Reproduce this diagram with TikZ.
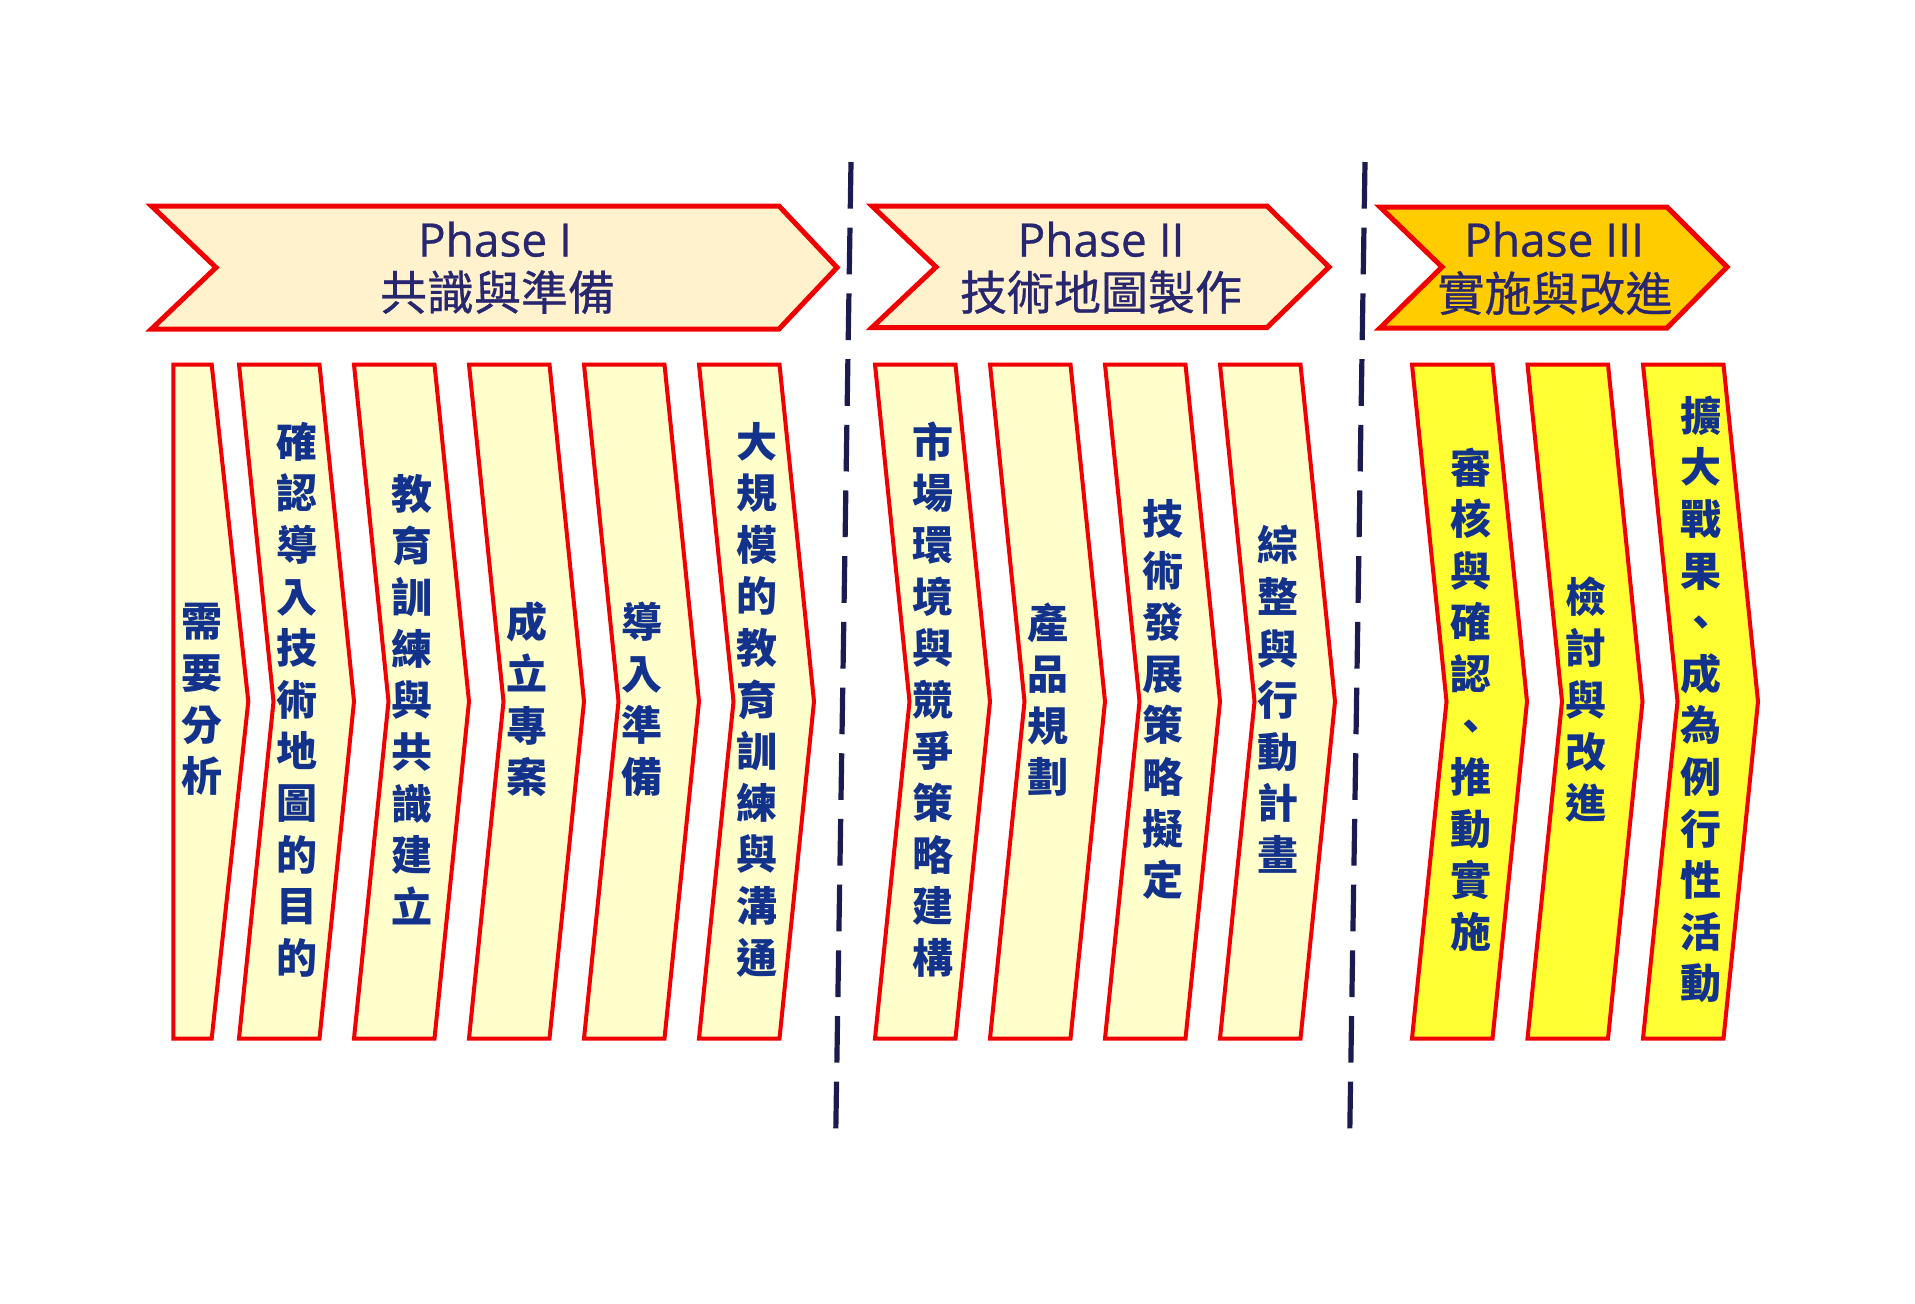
\documentclass[tikz,border=0pt]{standalone}
\usepackage{fontspec}
\setmainfont{Open Sans}
\newfontfamily\latinfont[FakeBold=0.7]{Open Sans}
\newfontfamily\cjk{Noto Sans CJK TC}
\newfontfamily\cjkmed[FakeBold=0.6]{Noto Sans CJK TC}
\definecolor{hdrtext}{RGB}{40,38,110}
\definecolor{boxtext}{RGB}{18,50,140}
\definecolor{hdrfill}{RGB}{255,242,204}
\definecolor{goldfill}{RGB}{255,204,0}
\definecolor{boxfill}{RGB}{255,255,204}
\definecolor{boxfillB}{RGB}{255,255,51}
\definecolor{edgered}{RGB}{240,0,0}
\definecolor{dashcol}{RGB}{27,27,80}
\begin{document}
\begin{tikzpicture}[x=0.5pt,y=-0.5pt,
  hdr/.style={draw=edgered, line width=2.5pt, fill=hdrfill, line join=miter},
  hdrB/.style={hdr, fill=goldfill},
  bx/.style={draw=edgered, line width=2pt, fill=boxfill, line join=miter},
  bxB/.style={bx, fill=boxfillB},
  phase/.style={anchor=base, inner sep=0pt, text=hdrtext, font=\latinfont\fontsize{23}{27}\selectfont},
  phcjk/.style={anchor=base, inner sep=0pt, text=hdrtext, font=\cjkmed\fontsize{23.5}{28}\selectfont},
  vt/.style={inner sep=0pt, align=center, text=boxtext, font=\cjk\bfseries\fontsize{20.5}{25.8}\selectfont},
  sep/.style={draw=dashcol, line width=2.6pt, dash pattern=on 23.35pt off 9.5pt}
]
\useasboundingbox (0,0) rectangle (1915,1303);

% header chevrons
\draw[hdr] (151.5,206) -- (779,206) -- (837,267.5) -- (779,329) -- (151.5,329) -- (216,267.5) -- cycle;
\draw[hdr] (872,206) -- (1267,206) -- (1329,267) -- (1267,327.5) -- (872,327.5) -- (936,267) -- cycle;
\draw[hdrB] (1380,207) -- (1667,207) -- (1727,267) -- (1667,328) -- (1380,328) -- (1442,267) -- cycle;

\node[phase] (h1a) at (495,256.5) {Phase I};
\node[phcjk] (h1b) at (497.5,310) {共識與準備};
\node[phase] (h2a) at (1101,256.5) {Phase II};
\node[phcjk] (h2b) at (1101,310) {技術地圖製作};
\node[phase] (h3a) at (1554,256.5) {Phase III};
\node[phcjk] (h3b) at (1555,311) {實施與改進};

% separators
\coordinate (s1a) at (851,162);
\coordinate (s1b) at (835.7,1136);
\coordinate (s2a) at (1365,162);
\coordinate (s2b) at (1349.7,1136);
\draw[sep] (s1a) -- (s1b);
\draw[sep] (s2a) -- (s2b);

% phase I boxes
\draw[bx] (173.3,364.6) -- (211.7,364.6) -- (248.3,701.5) -- (211.7,1038.5) -- (173.3,1038.5) -- cycle;
\foreach \L in {239,354,469,584,699}{
  \draw[bx] (\L,364.6) -- ++(80.5,0) -- ++(34.5,336.9) -- ++(-34.5,337) -- ++(-80.5,0) -- ++(34.5,-337) -- cycle;
}
% phase II boxes
\foreach \L in {875,990,1105,1220}{
  \draw[bx] (\L,364.6) -- ++(80.5,0) -- ++(34.5,336.9) -- ++(-34.5,337) -- ++(-80.5,0) -- ++(34.5,-337) -- cycle;
}
% phase III boxes
\foreach \L in {1412,1527.5,1643}{
  \draw[bxB] (\L,364.6) -- ++(80.5,0) -- ++(34.5,336.9) -- ++(-34.5,337) -- ++(-80.5,0) -- ++(34.5,-337) -- cycle;
}

% box texts
\node[vt] (t1) at (201.7,699.5) {需\\要\\分\\析};
\node[vt] (t2) at (297,699.5) {確\\認\\導\\入\\技\\術\\地\\圖\\的\\目\\的};
\node[vt] (t3) at (412,699.5) {教\\育\\訓\\練\\與\\共\\識\\建\\立};
\node[vt] (t4) at (527,699.5) {成\\立\\專\\案};
\node[vt] (t5) at (642,699.5) {導\\入\\準\\備};
\node[vt] (t6) at (757,699.5) {大\\規\\模\\的\\教\\育\\訓\\練\\與\\溝\\通};
\node[vt] (t7) at (933,699.5) {市\\場\\環\\境\\與\\競\\爭\\策\\略\\建\\構};
\node[vt] (t8) at (1048,699.5) {產\\品\\規\\劃};
\node[vt] (t9) at (1163,699.5) {技\\術\\發\\展\\策\\略\\擬\\定};
\node[vt] (t10) at (1278,699.5) {綜\\整\\與\\行\\動\\計\\畫};
\node[vt] (t11) at (1470.5,699.5) {審\\核\\與\\確\\認\\、\\推\\動\\實\\施};
\node[vt] (t12) at (1586,699.5) {檢\\討\\與\\改\\進};
\node[vt] (t13) at (1701,699.5) {擴\\大\\戰\\果\\、\\成\\為\\例\\行\\性\\活\\動};
\end{tikzpicture}
\end{document}
